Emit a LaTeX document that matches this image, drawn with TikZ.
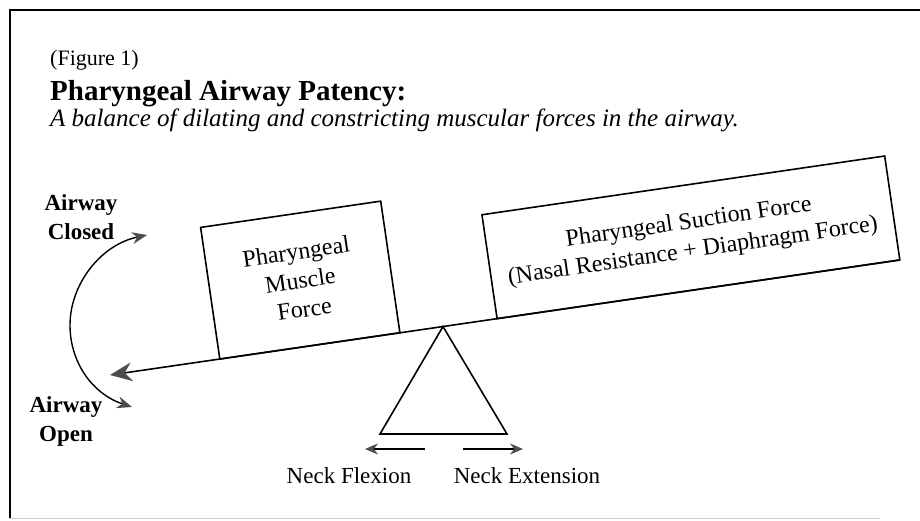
\documentclass[tikz,border=0pt]{standalone}
\usepackage{fontspec}
\setmainfont{Liberation Serif}
\usetikzlibrary{calc,arrows.meta,positioning}
\tikzset{
  forcebox/.style={draw, line width=1.6pt, outer sep=0pt, inner sep=2pt, align=center,
    rotate=8.3, anchor=south west, font=\fontsize{24}{29}\selectfont},
  airlbl/.style={align=center, font=\fontsize{23}{29}\selectfont\bfseries},
  necklbl/.style={anchor=base, font=\fontsize{23}{28}\selectfont},
  gtip/.style={-{Stealth[length=#1, width=0.85*#1, color=black!70]}},
}

\begin{document}
\begin{tikzpicture}[x=1pt,y=-1pt]
	\useasboundingbox (0,0) rectangle (920,520);
	% frame
	\draw[line width=1.2pt] (920,10) -- (10,10) -- (10,518);
	\draw[black!20, line width=0.8pt] (10,518) -- (880,518);
	
	% titles
	\node[anchor=base west, inner sep=0, font=\fontsize{22}{26}\selectfont] (fig) at (50,65) {(Figure 1)};
	\node[anchor=base west, inner sep=0, font=\fontsize{29}{34}\selectfont\bfseries] (title) at (50,100) {Pharyngeal Airway Patency:};
	\node[anchor=base west, inner sep=0, font=\fontsize{25}{30}\selectfont\itshape] (sub) at (50,126) {A balance of dilating and constricting muscular forces in the airway.};
	
	% beam and pivot
	\coordinate (L) at (110,375);
	\coordinate (R) at (900,260);
	\coordinate (P) at ($(L)!0.4215!(R)$);
	\coordinate (Q) at (380,434);
	\coordinate (S) at (507,434);
	\draw[line width=1.6pt, gtip=22pt] (R) -- (L);
	\draw[line width=1.6pt] (P) -- (Q) -- (S) -- cycle;
	
	% forces on the beam
	\node[forcebox, minimum width=182pt, minimum height=133pt] (muscle) at ($(L)!0.139!(R)$) {Pharyngeal\\Muscle\\Force};
	\node[forcebox, minimum width=407pt, minimum height=105pt] (suction) at ($(L)!0.49!(R)$) {Pharyngeal Suction Force\\(Nasal Resistance + Diaphragm Force)};
	
	% airway state
	\node[airlbl] (closed) at (81,217) {Airway\\Closed};
	\node[airlbl] (open) at (66,421) {Airway\\Open};
	\coordinate (C1) at (147,235);
	\coordinate (C2) at (70,325);
	\coordinate (C3) at (132,407);
	\draw[line width=1.4pt, {Stealth[length=15pt, width=12pt, color=black!70]}-{Stealth[length=15pt, width=12pt, color=black!70]}]
		(C1) .. controls (100,245) and (70,285) .. (C2) .. controls (70,365) and (95,395) .. (C3);
	
	% neck movement
	\coordinate (F1) at (425,449);
	\coordinate (F2) at (365,449);
	\coordinate (E1) at (463,449);
	\coordinate (E2) at (523,449);
	\draw[line width=1.2pt, gtip=13pt] (F1) -- (F2);
	\draw[line width=1.2pt, gtip=13pt] (E1) -- (E2);
	\node[necklbl] (flex) at (349,483) {Neck Flexion};
	\node[necklbl] (ext) at (527,483) {Neck Extension};
\end{tikzpicture}
\end{document}
